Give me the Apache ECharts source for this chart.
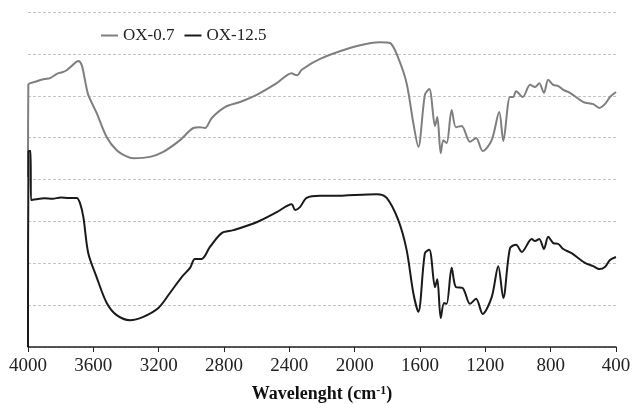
<!DOCTYPE html>
<html>
<head>
<meta charset="utf-8">
<script src="https://cdn.jsdelivr.net/npm/echarts@6/dist/echarts.min.js"></script>
<style>
  html, body { margin: 0; padding: 0; background: #fff; }
  #chart { width: 633px; height: 404px; }
</style>
</head>
<body>
<div id="chart"></div>
<script>
// wavenumber ticks (cm-1), axis runs from 4000 down to 400
const xTicks = [4000, 3600, 3200, 2800, 2400, 2000, 1600, 1200, 800, 400]

// OX-0.7 (gray), [wavenumber, transmittance offset]
const ox07 = [
  [4000, 40.6], [3998, 62.6], [3950, 63.4], [3900, 64.0], [3865, 64.2], [3820, 65.3],
  [3790, 65.6], [3763, 66.1], [3730, 67.2], [3692, 68.3], [3671, 67.3], [3650, 63.5],
  [3631, 60.2], [3580, 55.9], [3518, 50.1], [3457, 47.0], [3400, 45.6], [3355, 45.1],
  [3253, 45.4], [3172, 46.6], [3069, 49.4], [2988, 52.3], [2947, 52.5], [2916, 52.3],
  [2875, 54.7], [2794, 57.3], [2702, 58.5], [2600, 60.2], [2477, 63.0], [2386, 65.4],
  [2365, 65.0], [2350, 64.9], [2324, 66.2], [2212, 68.8], [2029, 71.4], [1900, 72.6],
  [1845, 72.8], [1784, 72.6], [1733, 69.0], [1682, 63.0], [1641, 53.5], [1610, 47.8],
  [1570, 60.2], [1543, 61.6], [1508, 52.8], [1494, 54.9], [1473, 46.3], [1457, 49.4],
  [1437, 48.7], [1406, 56.6], [1380, 52.5], [1345, 52.8], [1294, 49.0], [1257, 49.9],
  [1216, 46.8], [1161, 49.4], [1115, 56.1], [1090, 49.2], [1049, 59.7], [1029, 59.7],
  [1012, 61.1], [971, 59.7], [926, 62.6], [896, 62.1], [870, 63.0], [841, 60.7],
  [815, 63.8], [784, 62.6], [753, 62.3], [723, 61.4], [682, 60.7], [600, 58.5],
  [539, 58.0], [502, 57.1], [468, 58.0], [437, 59.7], [400, 60.9]
]

// OX-12.5 (black)
const ox125 = [
  [4000, 0], [3997, 46.8], [3984, 46.8], [3982, 35.1], [3950, 35.3], [3900, 35.5],
  [3850, 35.4], [3800, 35.7], [3750, 35.6], [3702, 35.6], [3682, 34.4], [3661, 31.0],
  [3631, 22.4], [3580, 16.7], [3518, 10.5], [3457, 7.6], [3376, 6.4], [3294, 7.2],
  [3202, 9.3], [3131, 12.9], [3059, 16.7], [3008, 18.9], [2978, 21.0], [2937, 21.0],
  [2886, 23.9], [2814, 27.2], [2743, 27.9], [2600, 29.8], [2477, 32.2], [2386, 34.1],
  [2365, 32.7], [2335, 33.4], [2294, 35.6], [2212, 36.1], [2131, 36.1], [1865, 36.5],
  [1804, 35.6], [1733, 30.3], [1682, 23.2], [1641, 12.9], [1610, 8.4], [1570, 22.4],
  [1543, 23.2], [1508, 14.3], [1494, 16.2], [1473, 6.9], [1453, 10.5], [1437, 10.3],
  [1406, 18.9], [1380, 14.3], [1339, 14.1], [1294, 10.3], [1257, 11.5], [1216, 7.9],
  [1161, 11.9], [1121, 19.3], [1090, 11.7], [1049, 23.6], [1012, 24.4], [977, 22.7],
  [916, 25.8], [896, 25.3], [870, 25.8], [841, 23.4], [815, 26.3], [784, 24.8],
  [753, 24.6], [723, 23.4], [672, 22.4], [590, 20.1], [539, 19.3], [502, 18.6],
  [468, 19.1], [437, 20.8], [400, 21.5]
]

const seriesNames = ['OX-0.7', 'OX-12.5']
const seriesColors = ['#7f7f7f', '#1a1a1a']

const chart = echarts.init(document.getElementById('chart'))
chart.setOption({
  animation: false,
  textStyle: { fontFamily: 'Liberation Serif' },
  grid: { left: 28, right: 17, top: 12, bottom: 57, outerBoundsMode: 'none' },
  legend: {
    left: 96,
    top: 22,
    itemWidth: 17,
    itemHeight: 2,
    itemGap: 10,
    icon: 'rect',
    textStyle: { fontFamily: 'Liberation Serif', fontSize: 17, color: '#222' },
    data: seriesNames
  },
  xAxis: {
    type: 'value',
    inverse: true,
    min: xTicks[xTicks.length - 1],
    max: xTicks[0],
    interval: 400,
    name: 'Wavelenght (cm{sup|-1})',
    nameLocation: 'middle',
    nameGap: 38,
    nameTextStyle: {
      fontFamily: 'Liberation Serif',
      fontSize: 18,
      fontWeight: 'bold',
      color: '#111',
      rich: {
        sup: { fontFamily: 'Liberation Serif', fontSize: 12, fontWeight: 'bold', verticalAlign: 'top', color: '#111', padding: [0, 0, 7, 0] }
      }
    },
    axisLine: { lineStyle: { color: '#222', width: 1.5 } },
    axisTick: { show: true, length: 5, lineStyle: { color: '#222' } },
    axisLabel: {
      fontFamily: 'Liberation Serif', fontSize: 19, color: '#222', margin: 10,
      formatter: v => String(v)
    },
    splitLine: { show: false }
  },
  yAxis: {
    type: 'value',
    min: 0,
    max: 80,
    interval: 10,
    axisLine: { show: false },
    axisTick: { show: false },
    axisLabel: { show: false },
    splitLine: { lineStyle: { color: '#c4c4c4', type: [3, 2], width: 1 } }
  },
  series: [
    {
      name: seriesNames[0],
      type: 'line',
      data: ox07,
      showSymbol: false,
      smooth: 0.3,
      color: seriesColors[0],
      lineStyle: { width: 2, color: seriesColors[0] }
    },
    {
      name: seriesNames[1],
      type: 'line',
      data: ox125,
      showSymbol: false,
      smooth: 0.3,
      color: seriesColors[1],
      lineStyle: { width: 2, color: seriesColors[1] }
    }
  ]
})
</script>
</body>
</html>
